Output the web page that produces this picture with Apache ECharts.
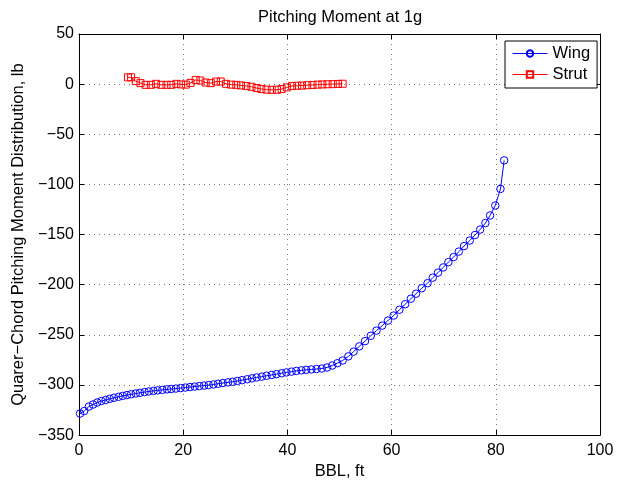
<!DOCTYPE html>
<html>
<head>
<meta charset="utf-8">
<script src="https://cdn.jsdelivr.net/npm/echarts@6/dist/echarts.min.js"></script>
<style>html,body{margin:0;padding:0;background:#fff;}#c{width:625px;height:485px;}</style>
</head>
<body>
<div id="c"></div>
<script>
const titleText = 'Pitching Moment at 1g';
const xName = 'BBL, ft';
const yName = 'Quarer\u2212Chord Pitching Moment Distribution, lb';
const seriesNames = ['Wing', 'Strut'];
const xTicks = [0, 20, 40, 60, 80, 100];
const yTicks = [-350, -300, -250, -200, -150, -100, -50, 0, 50];

const wingX = [0.2, 1.0, 1.9, 2.7, 3.5, 4.3, 5.1, 5.9, 6.7, 7.6,
 8.4, 9.2, 10.0, 10.9, 11.7, 12.6, 13.4, 14.3, 15.1, 16.0,
 16.9, 17.7, 18.6, 19.5, 20.4, 21.3, 22.2, 23.1, 24.0, 24.9,
 25.8, 26.7, 27.6, 28.6, 29.5, 30.4, 31.3, 32.3, 33.2, 34.1,
 35.1, 36.0, 37.0, 37.9, 38.9, 39.8, 40.8, 41.7, 42.7, 43.6,
 44.6, 45.6, 46.6, 47.6, 48.6, 49.6, 50.6, 51.7, 52.7, 53.8,
 54.9, 56.0, 57.1, 58.2, 59.3, 60.4, 61.5, 62.6, 63.7, 64.7,
 65.8, 66.9, 67.9, 68.9, 69.9, 70.9, 71.9, 72.9, 73.9, 75.0,
 76.0, 77.0, 78.0, 78.9, 79.9, 80.9, 81.6];
const wingY = [-328.5, -326, -321.5, -319.5, -317.5, -316, -315, -313.8, -312.8, -311.8,
 -310.9, -310.1, -309.3, -308.5, -307.8, -307.1, -306.5, -305.9, -305.4, -304.9,
 -304.4, -304.0, -303.6, -303.1, -302.6, -302.1, -301.6, -301.1, -300.6, -300.1,
 -299.5, -298.8, -298.1, -297.4, -296.8, -296.0, -295.2, -294.3, -293.4, -292.5,
 -291.7, -290.8, -290.0, -289.2, -288.3, -287.5, -286.7, -286.0, -285.4, -284.9,
 -284.5, -284.1, -283.6, -282.6, -280.6, -278.3, -275.6, -271.5, -266.8, -261.5,
 -256.3, -251.0, -245.8, -240.8, -235.8, -230.8, -225.0, -219.5, -214.0, -209.0,
 -203.5, -198.5, -193.0, -188.0, -182.8, -177.5, -172.5, -167.0, -161.5, -156.0,
 -150.5, -145.0, -138.5, -131.0, -121.0, -104.5, -76.0];

const strutX = [9.4, 10.0, 10.9, 11.8, 12.8, 13.8, 14.8, 15.8, 16.8, 17.7,
 18.7, 19.6, 20.5, 21.4, 22.4, 23.3, 24.3, 25.3, 26.3, 27.2,
 28.2, 29.2, 30.2, 31.1, 32.1, 33.1, 34.1, 35.0, 36.0, 37.0,
 38.0, 38.9, 39.9, 40.9, 41.9, 42.8, 43.8, 44.8, 45.8, 46.7,
 47.7, 48.7, 49.7, 50.6];
const strutY = [6.8, 6.8, 3.0, 1.0, -0.7, -0.7, 0.3, -0.7, -0.7, -0.7,
 0.3, -0.3, -0.5, 1.2, 4.2, 3.6, 1.6, 1.0, 2.6, 2.6,
 0.3, -0.5, -0.7, -1.3, -1.8, -2.6, -3.9, -4.8, -5.5, -5.6,
 -5.6, -4.9, -3.2, -1.8, -1.6, -1.4, -1.1, -0.8, -0.5, -0.3,
 -0.1, 0.0, 0.2, 0.4];

const FONT = '"Liberation Sans", Arial, Helvetica, sans-serif';
const zip = (xs, ys) => xs.map((x, i) => [x, ys[i]]);
const fmt = v => String(v).replace('-', '\u2212');

const gridLine = {show: true, lineStyle: {color: '#777', width: 1, type: [1, 4]}};
const axLine = {show: true, onZero: false, lineStyle: {color: '#000', width: 1}};
const tick = {show: true, inside: true, length: 5, lineStyle: {color: '#000'}};
const xRange = {min: xTicks[0], max: xTicks[xTicks.length - 1], interval: xTicks[1] - xTicks[0]};
const yRange = {min: yTicks[0], max: yTicks[yTicks.length - 1], interval: yTicks[1] - yTicks[0]};

const chart = echarts.init(document.getElementById('c'), null, {renderer: 'canvas'});
chart.setOption({
  animation: false,
  backgroundColor: '#fff',
  textStyle: {fontFamily: FONT},
  title: {
    text: titleText, left: 253, top: 4,
    textStyle: {fontFamily: FONT, fontSize: 16.5, fontWeight: 'normal', color: '#000'}
  },
  grid: {left: 79, right: 25, top: 34, bottom: 40, containLabel: false},
  legend: {
    orient: 'vertical', left: 505, top: 41, align: 'left',
    padding: [4, 7, 5, 7], itemGap: 4, itemWidth: 35, itemHeight: 8,
    backgroundColor: '#fff', borderColor: '#000', borderWidth: 1, borderRadius: 0,
    lineStyle: {width: 1},
    textStyle: {fontFamily: FONT, fontSize: 16.5, color: '#000', lineHeight: 16},
    data: seriesNames
  },
  xAxis: [{
    type: 'value', position: 'bottom', ...xRange,
    name: xName, nameLocation: 'middle', nameGap: 25,
    nameTextStyle: {fontFamily: FONT, fontSize: 16.5, color: '#000'},
    axisLine: axLine, axisTick: tick, splitLine: gridLine,
    axisLabel: {fontFamily: FONT, fontSize: 16, color: '#000', margin: 7, formatter: fmt}
  }, {
    type: 'value', position: 'top', ...xRange,
    axisLine: axLine, axisTick: tick, splitLine: {show: false}, axisLabel: {show: false}
  }],
  yAxis: [{
    type: 'value', position: 'left', ...yRange,
    name: yName, nameLocation: 'middle', nameGap: 48, nameRotate: 90,
    nameTextStyle: {fontFamily: FONT, fontSize: 16.5, color: '#000'},
    axisLine: axLine, axisTick: tick, splitLine: gridLine,
    axisLabel: {fontFamily: FONT, fontSize: 16, color: '#000', margin: 5, formatter: fmt}
  }, {
    type: 'value', position: 'right', ...yRange,
    axisLine: axLine, axisTick: tick, splitLine: {show: false}, axisLabel: {show: false}
  }],
  series: [{
    name: seriesNames[0], type: 'line', data: zip(wingX, wingY),
    symbol: 'circle', symbolSize: 7.5, showAllSymbol: true,
    lineStyle: {color: '#0000ff', width: 1},
    itemStyle: {color: 'rgba(0,0,0,0)', borderColor: '#0000ff', borderWidth: 1},
    emphasis: {disabled: true}, z: 3
  }, {
    name: seriesNames[1], type: 'line', data: zip(strutX, strutY),
    symbol: 'rect', symbolSize: 7, showAllSymbol: true,
    lineStyle: {color: '#ff0000', width: 1},
    itemStyle: {color: 'rgba(0,0,0,0)', borderColor: '#ff0000', borderWidth: 1},
    emphasis: {disabled: true}, z: 3
  }]
});
</script>
</body>
</html>
